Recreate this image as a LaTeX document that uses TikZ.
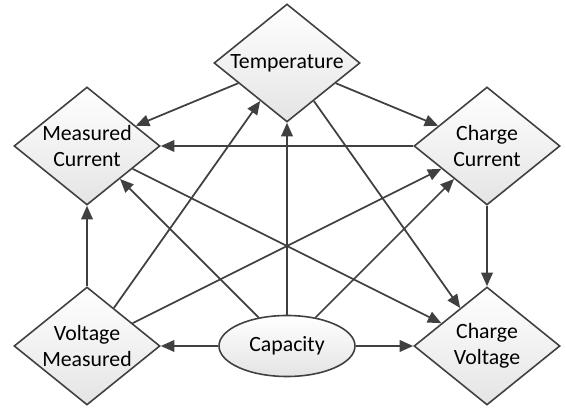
\documentclass[tikz,border=0pt]{standalone}
\usepackage{fontspec}
\setmainfont{Carlito}
\usetikzlibrary{arrows.meta,positioning,shapes.geometric}
\definecolor{edgegray}{HTML}{404040}
\definecolor{shadetop}{HTML}{FFFFFF}
\definecolor{shadebot}{HTML}{E4E4E4}

\begin{document}
\begin{tikzpicture}[
  font=\fontsize{12.4}{15}\selectfont,
  on grid,
  node distance=4cm and 4cm,
  factor/.style={diamond, draw=edgegray, line width=0.9pt, top color=shadetop, bottom color=shadebot, aspect=1.24, minimum width=2.92cm, minimum height=2.36cm, inner sep=0pt, align=center},
  source/.style={ellipse, draw=edgegray, line width=0.9pt, top color=shadetop, bottom color=shadebot, minimum width=2.72cm, minimum height=1.22cm, inner sep=0pt, align=center},
  arrow/.style={-{Triangle[length=2.7mm, width=2.3mm]}, line width=1pt, color=edgegray}
]
\node[factor] (meascur) {Measured\\Current};
\node[factor, right=8cm of meascur] (chgcur) {Charge\\Current};
\node[factor, above right=1.66cm and 4cm of meascur] (temp) {Temperature};
\node[factor, below=of meascur] (voltmeas) {Voltage\\Measured};
\node[factor, below=of chgcur] (chgvolt) {Charge\\Voltage};
\node[source, right=of voltmeas] (capacity) {Capacity};
\useasboundingbox (meascur.center) ++(-1.74,2.92) rectangle ++(11.32,-8.24);
% from temperature
\draw[arrow] (temp) -- (meascur);
\draw[arrow] (temp) -- (chgcur);
\draw[arrow] (temp) -- (chgvolt);
% from the currents
\draw[arrow] (chgcur) -- (meascur);
\draw[arrow] (chgcur) -- (chgvolt);
\draw[arrow] (meascur) -- (chgvolt);
% from voltage measured
\draw[arrow] (voltmeas) -- (meascur);
\draw[arrow] (voltmeas) -- (temp);
\draw[arrow] (voltmeas) -- (chgcur);
% from capacity
\draw[arrow] (capacity) -- (voltmeas);
\draw[arrow] (capacity) -- (chgvolt);
\draw[arrow] (capacity) -- (temp);
\draw[arrow] (capacity) -- (meascur);
\draw[arrow] (capacity) -- (chgcur);
\end{tikzpicture}
\end{document}
